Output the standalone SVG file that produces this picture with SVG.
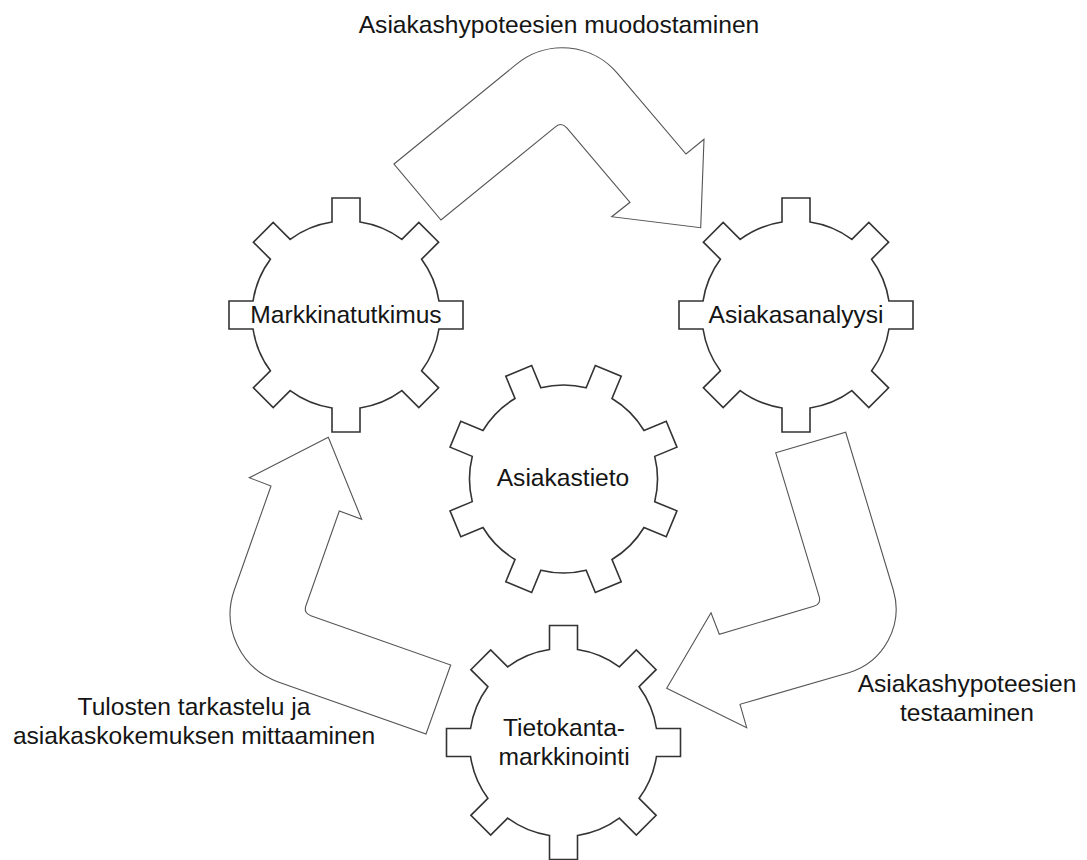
<svg xmlns="http://www.w3.org/2000/svg" xmlns:xlink="http://www.w3.org/1999/xlink" width="1087" height="860" viewBox="0 0 1087 860">
<style>
.gear{fill:#fff;stroke:#333;stroke-width:1.6;stroke-linejoin:miter}
.arrow{fill:#fff;stroke:#555;stroke-width:1.1;stroke-linejoin:miter}
text{font-family:"Liberation Sans",Arial,sans-serif;font-size:24.6px;fill:#151515;text-anchor:middle}
</style>
<defs>
<path id="gearShape" d="M92.95,-14 L117,-14 L117,14 L92.95,14 A94,94 0 0 1 75.63,55.83 L92.63,72.83 L72.83,92.63 L55.83,75.63 A94,94 0 0 1 14,92.95 L14,117 L-14,117 L-14,92.95 A94,94 0 0 1 -55.83,75.63 L-72.83,92.63 L-92.63,72.83 L-75.63,55.83 A94,94 0 0 1 -92.95,14 L-117,14 L-117,-14 L-92.95,-14 A94,94 0 0 1 -75.63,-55.83 L-92.63,-72.83 L-72.83,-92.63 L-55.83,-75.63 A94,94 0 0 1 -14,-92.95 L-14,-117 L14,-117 L14,-92.95 A94,94 0 0 1 55.83,-75.63 L72.83,-92.63 L92.63,-72.83 L75.63,-55.83 A94,94 0 0 1 92.95,-14 Z"/>
</defs>
<g id="connectors">
<path id="arrow-top" class="arrow" d="M394,164 L515.6,64.9 A72,72 0 0 1 618.1,74.2 L686,154 L704,139.3 L700.7,227.7 L611.7,216.7 L630,202.3 L566.8,127.8 Q561.6,121.7 555.4,126.8 L441,220 Z"/>
<path id="arrow-right" class="arrow" d="M775.7,452.7 L845.7,432.3 L893.3,590 A66.6,66.6 0 0 1 848.8,672.7 L740,704.3 L746.7,727.7 L666.7,688.3 L711,612.7 L719.3,634.3 L813.7,606.3 Q821.4,604 819.1,596.3 Z"/>
<path id="arrow-left" class="arrow" d="M328.3,437.3 L249.3,477.7 L271,486 L234.3,590 A72,72 0 0 0 278.2,681.9 L426,734 L450.7,665 L310.8,615.7 Q303.3,613 306,605.5 L339.3,511 L361.7,519.3 Z"/>
</g>
<g id="node-markkinatutkimus">
<use xlink:href="#gearShape" href="#gearShape" class="gear" transform="translate(346,315)"/>
<text x="346" y="323">Markkinatutkimus</text>
</g>
<g id="node-asiakasanalyysi">
<use xlink:href="#gearShape" href="#gearShape" class="gear" transform="translate(796,315)"/>
<text x="796" y="323">Asiakasanalyysi</text>
</g>
<g id="node-asiakastieto">
<use xlink:href="#gearShape" href="#gearShape" class="gear" transform="translate(563.5,479) rotate(22.5)"/>
<text x="563" y="486">Asiakastieto</text>
</g>
<g id="node-tietokantamarkkinointi">
<use xlink:href="#gearShape" href="#gearShape" class="gear" transform="translate(563.5,742.5)"/>
<text x="564" y="736">Tietokanta-</text>
<text x="564" y="765">markkinointi</text>
</g>
<g id="labels">
<text x="559" y="33">Asiakashypoteesien muodostaminen</text>
<text x="967" y="692">Asiakashypoteesien</text>
<text x="967" y="721">testaaminen</text>
<text x="194" y="715">Tulosten tarkastelu ja</text>
<text x="194" y="744">asiakaskokemuksen mittaaminen</text>
</g>
</svg>
